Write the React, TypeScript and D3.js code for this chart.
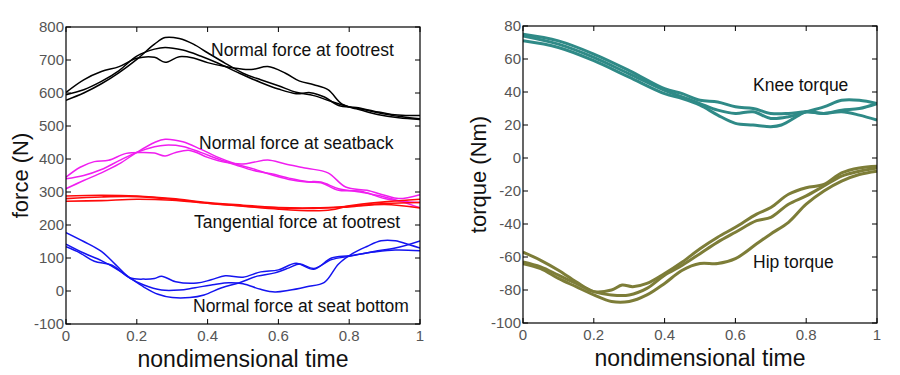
import React from "react";
import * as d3 from "d3";

type P = [number, number];

// ---- Left panel data: force (N) vs nondimensional time ----
const footrestNormalA: P[] = [[0,578],[0.05,600],[0.1,628],[0.15,662],[0.2,702],[0.25,748],[0.28,768],[0.32,765],[0.36,748],[0.4,722],[0.45,690],[0.5,660],[0.55,640],[0.6,622],[0.65,602],[0.7,592],[0.75,574],[0.8,558],[0.85,548],[0.9,536],[0.95,528],[1,522]];
const footrestNormalB: P[] = [[0,595],[0.05,610],[0.1,635],[0.15,668],[0.2,712],[0.25,733],[0.28,738],[0.33,730],[0.38,712],[0.43,690],[0.49,660],[0.55,632],[0.6,612],[0.65,598],[0.69,601],[0.73,588],[0.77,562],[0.82,556],[0.87,545],[0.92,535],[0.96,532],[1,532]];
const footrestNormalC: P[] = [[0,602],[0.05,640],[0.1,665],[0.15,680],[0.2,705],[0.25,708],[0.28,693],[0.32,710],[0.36,706],[0.4,692],[0.45,680],[0.5,672],[0.53,672],[0.57,680],[0.62,660],[0.66,636],[0.7,625],[0.74,610],[0.78,566],[0.82,552],[0.88,535],[0.94,525],[1,520]];

const seatbackNormalA: P[] = [[0,310],[0.05,335],[0.1,358],[0.15,385],[0.2,420],[0.25,450],[0.28,460],[0.33,452],[0.38,430],[0.43,405],[0.48,385],[0.53,370],[0.58,352],[0.63,338],[0.68,330],[0.72,328],[0.77,305],[0.83,303],[0.9,280],[0.95,272],[1,268]];
const seatbackNormalB: P[] = [[0,340],[0.05,350],[0.1,368],[0.15,395],[0.2,420],[0.25,437],[0.28,442],[0.33,438],[0.38,420],[0.43,400],[0.48,382],[0.53,365],[0.58,355],[0.63,342],[0.68,332],[0.72,330],[0.77,310],[0.83,300],[0.9,285],[0.95,270],[1,252]];
const seatbackNormalC: P[] = [[0,345],[0.04,375],[0.08,392],[0.12,396],[0.17,417],[0.22,420],[0.25,418],[0.28,409],[0.31,420],[0.35,426],[0.4,405],[0.45,390],[0.5,385],[0.53,390],[0.57,397],[0.62,385],[0.68,372],[0.74,358],[0.79,315],[0.85,305],[0.9,290],[0.94,280],[1,292]];

const footrestTangentialA: P[] = [[0,288],[0.1,290],[0.2,288],[0.3,280],[0.4,268],[0.5,260],[0.6,253],[0.7,252],[0.8,257],[0.9,265],[1,268]];
const footrestTangentialB: P[] = [[0,280],[0.1,285],[0.2,286],[0.3,278],[0.4,266],[0.5,257],[0.6,248],[0.7,243],[0.75,246],[0.8,258],[0.9,270],[1,278]];
const footrestTangentialC: P[] = [[0,272],[0.1,274],[0.2,278],[0.3,275],[0.4,266],[0.5,258],[0.6,252],[0.7,250],[0.8,255],[0.9,262],[1,252]];

const seatBottomNormalA: P[] = [[0,142],[0.05,115],[0.1,92],[0.15,62],[0.18,40],[0.22,12],[0.26,-10],[0.3,-20],[0.35,-20],[0.39,-12],[0.44,10],[0.49,25],[0.54,45],[0.59,55],[0.63,70],[0.66,82],[0.7,68],[0.75,95],[0.8,105],[0.87,120],[0.93,130],[1,152]];
const seatBottomNormalB: P[] = [[0,177],[0.05,150],[0.1,120],[0.14,80],[0.18,40],[0.22,18],[0.27,3],[0.32,3],[0.36,9],[0.42,20],[0.46,25],[0.5,22],[0.55,5],[0.59,-3],[0.63,2],[0.68,13],[0.73,26],[0.77,82],[0.81,114],[0.85,135],[0.89,152],[0.93,152],[0.97,140],[1,130]];
const seatBottomNormalC: P[] = [[0,134],[0.04,115],[0.08,90],[0.13,78],[0.18,40],[0.22,36],[0.25,38],[0.27,45],[0.31,28],[0.37,24],[0.41,34],[0.45,46],[0.5,42],[0.55,58],[0.6,64],[0.65,84],[0.7,66],[0.75,100],[0.8,107],[0.87,118],[0.93,124],[1,122]];

// ---- Right panel data: torque (Nm) vs nondimensional time ----
const kneeTorqueA: P[] = [[0,75],[0.1,71],[0.2,63],[0.3,53],[0.4,42],[0.45,39],[0.5,35],[0.55,34],[0.6,31],[0.65,30],[0.7,27],[0.75,27],[0.8,28],[0.85,27],[0.9,29],[0.95,30],[1,33]];
const kneeTorqueB: P[] = [[0,74],[0.1,69],[0.2,61],[0.3,51],[0.4,41],[0.45,37],[0.5,33],[0.55,29],[0.6,27],[0.65,28],[0.7,24],[0.75,25],[0.8,28],[0.85,31],[0.9,35],[0.95,35],[1,33]];
const kneeTorqueC: P[] = [[0,71],[0.1,67],[0.2,59],[0.3,49],[0.4,39],[0.45,36],[0.5,32],[0.55,26],[0.6,21],[0.65,20],[0.7,19],[0.73,20],[0.78,26],[0.8,28],[0.85,27],[0.9,28],[0.95,26],[1,23]];

const hipTorqueA: P[] = [[0,-57],[0.05,-62],[0.1,-68],[0.15,-75],[0.2,-81],[0.25,-80],[0.28,-77],[0.31,-78],[0.35,-76],[0.4,-70],[0.45,-63],[0.5,-55],[0.55,-48],[0.6,-42],[0.66,-34],[0.7,-30],[0.75,-22],[0.8,-18],[0.85,-16],[0.9,-9],[0.95,-6],[1,-5]];
const hipTorqueB: P[] = [[0,-63],[0.05,-66],[0.1,-71],[0.15,-76],[0.2,-81],[0.25,-83],[0.3,-83],[0.35,-79],[0.4,-71],[0.45,-65],[0.5,-58],[0.55,-51],[0.6,-45],[0.66,-38],[0.7,-36],[0.75,-28],[0.8,-23],[0.85,-17],[0.9,-11],[0.95,-8],[1,-6]];
const hipTorqueC: P[] = [[0,-64],[0.05,-67],[0.1,-73],[0.15,-78],[0.2,-83],[0.25,-87],[0.3,-87],[0.35,-83],[0.4,-76],[0.45,-68],[0.5,-64],[0.55,-64],[0.6,-61],[0.66,-52],[0.7,-46],[0.75,-39],[0.8,-28],[0.85,-20],[0.9,-14],[0.95,-10],[1,-8]];

// ---- Ticks and labels ----
const xTicks = [0, 0.2, 0.4, 0.6, 0.8, 1];
const forceTicks = [-100, 0, 100, 200, 300, 400, 500, 600, 700, 800];
const torqueTicks = [-100, -80, -60, -40, -20, 0, 20, 40, 60, 80];
const xTitle = "nondimensional time";
const forceTitle = "force (N)";
const torqueTitle = "torque (Nm)";

const FONT = "'Liberation Sans', Arial, Helvetica, sans-serif";

type Group = { curves: P[][]; color: string; width: number; label: string; lx: number; ly: number };

const leftGroups: Group[] = [
  { curves: [footrestNormalA, footrestNormalB, footrestNormalC], color: "#000000", width: 1.5, label: "Normal force at footrest", lx: 211, ly: 56 },
  { curves: [seatbackNormalA, seatbackNormalB, seatbackNormalC], color: "#f01ef0", width: 1.5, label: "Normal force at seatback", lx: 199, ly: 149 },
  { curves: [footrestTangentialA, footrestTangentialB, footrestTangentialC], color: "#ff0a0a", width: 1.6, label: "Tangential force at footrest", lx: 194, ly: 228 },
  { curves: [seatBottomNormalA, seatBottomNormalB, seatBottomNormalC], color: "#1414f0", width: 1.5, label: "Normal force at seat bottom", lx: 193, ly: 312 },
];

const rightGroups: Group[] = [
  { curves: [kneeTorqueA, kneeTorqueB, kneeTorqueC], color: "#2f8a87", width: 3, label: "Knee torque", lx: 753, ly: 91 },
  { curves: [hipTorqueA, hipTorqueB, hipTorqueC], color: "#7d7d38", width: 3, label: "Hip torque", lx: 753, ly: 268 },
];

type PanelProps = {
  x0: number; x1: number; y0: number; y1: number;
  yDomain: [number, number]; yTicks: number[]; yTitle: string; yTitleX: number;
  groups: Group[]; clipId: string;
};

function Panel({ x0, x1, y0, y1, yDomain, yTicks, yTitle, yTitleX, groups, clipId }: PanelProps) {
  const xs = d3.scaleLinear().domain([0, 1]).range([x0, x1]);
  const ys = d3.scaleLinear().domain(yDomain).range([y1, y0]);
  const line = d3.line<P>().x(d => xs(d[0])).y(d => ys(d[1])).curve(d3.curveCatmullRom.alpha(0.5));
  const tl = 5;
  const tickColor = "#555";
  return (
    <g>
      <defs>
        <clipPath id={clipId}><rect x={x0} y={y0} width={x1 - x0} height={y1 - y0} /></clipPath>
      </defs>
      <g clipPath={`url(#${clipId})`}>
        {groups.map((g, gi) => g.curves.map((c, ci) => (
          <path key={`${gi}-${ci}`} d={line(c) || ""} fill="none" stroke={g.color} strokeWidth={g.width} strokeLinejoin="round" />
        )))}
      </g>
      {groups.map((g, gi) => (
        <text key={`l${gi}`} x={g.lx} y={g.ly} fontFamily={FONT} fontSize={17.5} fill="#111">{g.label}</text>
      ))}
      <rect x={x0} y={y0} width={x1 - x0} height={y1 - y0} fill="none" stroke="#000" strokeWidth={1.2} />
      {xTicks.map(t => (
        <g key={`x${t}`}>
          <line x1={xs(t)} x2={xs(t)} y1={y1} y2={y1 - tl} stroke="#000" />
          <line x1={xs(t)} x2={xs(t)} y1={y0} y2={y0 + tl} stroke="#000" />
          <text x={xs(t)} y={y1 + 17} textAnchor="middle" fontFamily={FONT} fontSize={15} fill={tickColor}>{String(t)}</text>
        </g>
      ))}
      {yTicks.map(t => (
        <g key={`y${t}`}>
          <line x1={x0} x2={x0 + tl} y1={ys(t)} y2={ys(t)} stroke="#000" />
          <line x1={x1} x2={x1 - tl} y1={ys(t)} y2={ys(t)} stroke="#000" />
          <text x={x0 - 2} y={ys(t) + 5} textAnchor="end" fontFamily={FONT} fontSize={15} fill={tickColor}>{String(t)}</text>
        </g>
      ))}
      <text x={(x0 + x1) / 2} y={y1 + 43} textAnchor="middle" fontFamily={FONT} fontSize={23} fill="#111">{xTitle}</text>
      <text transform={`translate(${yTitleX},${(y0 + y1) / 2}) rotate(-90)`} textAnchor="middle" fontFamily={FONT} fontSize={22} fill="#111">{yTitle}</text>
    </g>
  );
}

export default function App() {
  return (
    <svg width={900} height={375} style={{ position: "absolute", left: 0, top: 0, background: "#fff" }}>
      <rect x={0} y={0} width={900} height={375} fill="#fff" />
      <Panel x0={66} x1={420} y0={27} y1={324} yDomain={[-100, 800]} yTicks={forceTicks} yTitle={forceTitle} yTitleX={28} groups={leftGroups} clipId="clipL" />
      <Panel x0={523} x1={877} y0={26} y1={323} yDomain={[-100, 80]} yTicks={torqueTicks} yTitle={torqueTitle} yTitleX={486} groups={rightGroups} clipId="clipR" />
    </svg>
  );
}
